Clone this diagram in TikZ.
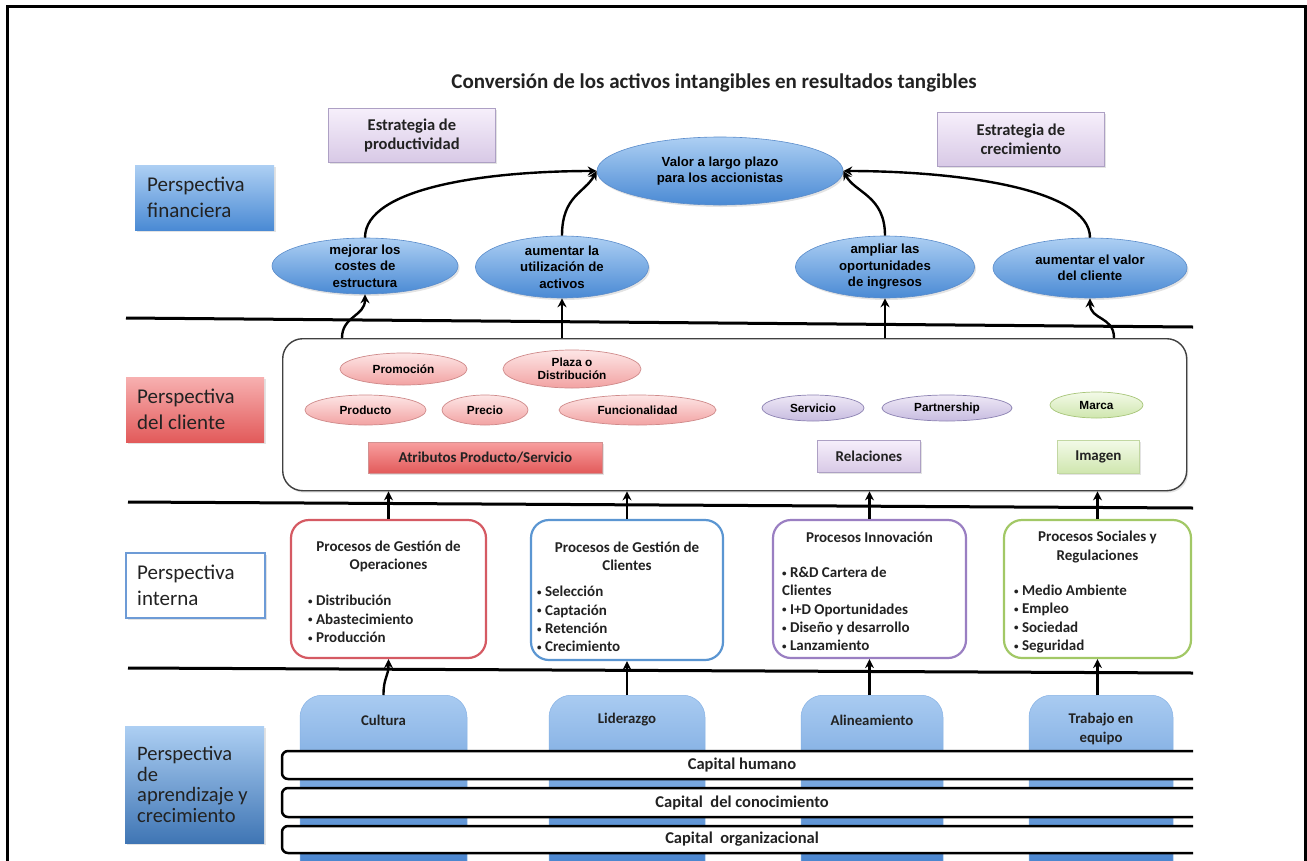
\documentclass[tikz,border=0pt]{standalone}
\usepackage{fontspec}
\setmainfont{Carlito}
\newfontfamily\arialf{Liberation Sans}
\usetikzlibrary{arrows.meta,shapes.geometric,shadows,calc}
\definecolor{finT}{HTML}{ADCFF3}
\definecolor{finB}{HTML}{4A8AD4}
\definecolor{finD}{HTML}{5A8CCB}
\definecolor{redT}{HTML}{F7B0B0}
\definecolor{redB}{HTML}{E25A5A}
\definecolor{pinkT}{HTML}{FDE6E6}
\definecolor{pinkB}{HTML}{F2A2A2}
\definecolor{pinkD}{HTML}{CF8A8A}
\definecolor{lavT}{HTML}{F6EFFB}
\definecolor{lavB}{HTML}{D8C9E6}
\definecolor{lavD}{HTML}{ADA0C4}
\definecolor{lavET}{HTML}{EEE8F6}
\definecolor{lavEB}{HTML}{C7BCE0}
\definecolor{lavED}{HTML}{8C82B2}
\definecolor{grT}{HTML}{F3FAE8}
\definecolor{grB}{HTML}{CFE6AE}
\definecolor{grD}{HTML}{A8C67A}
\definecolor{opC}{HTML}{D55A63}
\definecolor{clC}{HTML}{5B96D2}
\definecolor{inC}{HTML}{9A7FC2}
\definecolor{soC}{HTML}{A2C866}
\definecolor{intC}{HTML}{6D9BD6}
\definecolor{lbT}{HTML}{A9CBF1}
\definecolor{lbB}{HTML}{3878C8}
\definecolor{txt}{HTML}{222222}
\newcommand\zT{\fontsize{21}{25}\selectfont\bfseries}
\newcommand\zE{\fontsize{16.5}{19.5}\selectfont\bfseries}
\newcommand\zP{\fontsize{21}{26}\selectfont}
\newcommand\zQ{\fontsize{20.5}{20.5}\selectfont}
\newcommand\zF{\arialf\fontsize{13.2}{16.5}\selectfont\bfseries}
\newcommand\zS{\arialf\fontsize{11.8}{13.5}\selectfont\bfseries}
\newcommand\zR{\fontsize{15}{17}\selectfont\bfseries}
\newcommand\zB{\fontsize{15}{18.3}\selectfont\bfseries}
\newcommand\zL{\fontsize{14.8}{18.5}\selectfont\bfseries}
\newcommand\zC{\fontsize{16.5}{18}\selectfont\bfseries}
\newcommand\zb{\raisebox{1.3pt}{\fontsize{9}{9}\selectfont•}\ }
\begin{document}
\begin{tikzpicture}[x=1pt,y=-1pt,
  sepline/.style={line width=3pt, black},
  arr/.style={line width=2.4pt, black, -{Stealth[length=9pt,width=9pt]}},
  shad/.style={drop shadow={opacity=0.22, shadow xshift=1.5pt, shadow yshift=-2pt}},
  perspbox/.style={rectangle, inner sep=0pt, shad},
  persptxt/.style={inner sep=0pt, align=left, text=txt, anchor=west},
  estr/.style={rectangle, draw=lavD, line width=0.8pt, top color=lavT, bottom color=lavB, align=center, font=\zE, text=txt, inner sep=0pt, shad},
  fell/.style={ellipse, draw=finD, line width=0.6pt, top color=finT, bottom color=finB, inner sep=0pt, shad},
  ftxt/.style={align=center, font=\zF, text=black, inner sep=0pt},
  pell/.style={ellipse, draw=pinkD, line width=0.7pt, top color=pinkT, bottom color=pinkB, inner sep=0pt},
  vell/.style={ellipse, draw=lavED, line width=0.7pt, top color=lavET, bottom color=lavEB, inner sep=0pt},
  gell/.style={ellipse, draw=grD, line width=0.7pt, top color=grT, bottom color=grB, inner sep=0pt},
  stxt/.style={align=center, font=\zS, text=black, inner sep=0pt},
  rbox/.style={rectangle, line width=0.7pt, inner sep=0pt, font=\zR, text=txt, anchor=north west, shad},
  pbox/.style={rectangle, rounded corners=18pt, fill=white, line width=2.2pt, inner sep=0pt},
  ptitle/.style={align=center, font=\zB, text=txt, inner sep=0pt},
  plist/.style={align=left, font=\zB, text=txt, inner sep=0pt, anchor=west},
  lbox/.style={rectangle, rounded corners=22pt, top color=lbT, bottom color=lbB, draw=lbT!70!lbB, line width=0.5pt, inner sep=0pt, minimum height=200pt, anchor=north},
  ltxt/.style={align=center, font=\zL, text=txt, inner sep=0pt},
  capbar/.style={rectangle, rounded corners=6pt, draw=black, line width=2.5pt, fill=white, inner sep=0pt, font=\zC, text=txt, minimum width=920pt},
]
\useasboundingbox (0,0) rectangle (1307,860);
\fill[white] (0,0) rectangle (1307,860);
\draw[line width=3pt] (7,880) -- (7,6) -- (1305,6) -- (1305,880);

\begin{scope}
\clip (0,0) rectangle (1193,860);

% title
\node[font=\zT, text=txt] (title) at (714,83) {Conversión de los activos intangibles en resultados tangibles};

% strategy boxes
\node[estr, minimum width=167pt, minimum height=54pt, anchor=north west] (eprod) at (328,108) {Estrategia de\\productividad};
\node[estr, minimum width=167pt, minimum height=54pt, anchor=north west] (ecrec) at (937,112) {Estrategia de\\crecimiento};

% perspective labels
\node[perspbox, top color=finT, bottom color=finB, minimum width=139pt, minimum height=65pt, anchor=north west] (pfin) at (135,165) {};
\node[persptxt, font=\zP] at ($(pfin.west)+(12,0)$) {Perspectiva\\financiera};
\node[perspbox, top color=redT, bottom color=redB, minimum width=138pt, minimum height=65pt, anchor=north west] (pcli) at (126,377) {};
\node[persptxt, font=\zP] at ($(pcli.west)+(11,0)$) {Perspectiva\\del cliente};
\node[perspbox, fill=white, draw=intC, line width=2pt, minimum width=139pt, minimum height=65pt, anchor=north west] (pint) at (125,552) {};
\node[persptxt, font=\zP] at ($(pint.west)+(12,0)$) {Perspectiva\\interna};
\node[perspbox, top color=finT, bottom color=finB!85!black, minimum width=139pt, minimum height=117pt, anchor=north west] (papr) at (125,726) {};
\node[persptxt, font=\zQ] at ($(papr.west)+(12,0)$) {Perspectiva\\de\\aprendizaje y\\crecimiento};

% financial ellipses
\node[fell, minimum width=246pt, minimum height=68pt] (valor) at (720,171) {};
\node[ftxt] at (valor) {Valor a largo plazo\\para los accionistas};
\node[fell, minimum width=186pt, minimum height=56pt] (mej) at (365,266) {};
\node[ftxt] at (mej) {mejorar los\\costes de\\estructura};
\node[fell, minimum width=173pt, minimum height=62pt] (aum) at (562,267) {};
\node[ftxt] at (aum) {aumentar la\\utilización de\\activos};
\node[fell, minimum width=179pt, minimum height=62pt] (amp) at (885,267) {};
\node[ftxt] at (amp) {ampliar las\\oportunidades\\de ingresos};
\node[fell, minimum width=194pt, minimum height=60pt] (vcl) at (1090,268) {};
\node[ftxt] at (vcl) {aumentar el valor\\del cliente};

\draw[arr] (mej.north) .. controls +(0,-50) and +(-110,0) .. (valor.west);
\draw[arr] (aum.north) .. controls +(0,-40) and +(-12,22) .. (valor.west);
\draw[arr] (amp.north) .. controls +(0,-40) and +(12,22) .. (valor.east);
\draw[arr] (vcl.north) .. controls +(0,-50) and +(110,0) .. (valor.east);

% separators
\coordinate (s1a) at (126,318); \coordinate (s1b) at (1193,327);
\coordinate (s2a) at (128,502); \coordinate (s2b) at (1193,508);
\coordinate (s3a) at (128,668); \coordinate (s3b) at (1193,673);
\draw[sepline] (s1a) -- (s1b);
\draw[sepline] (s2a) -- (s2b);
\draw[sepline] (s3a) -- (s3b);

% client box
\node[rectangle, rounded corners=20pt, draw=black!75, line width=1.4pt, fill=white, minimum width=904pt, minimum height=152pt, anchor=north west, inner sep=0pt, shad] (cbox) at (282,338) {};

\node[pell, minimum width=127pt, minimum height=32pt] (promo) at (403.5,369) {};
\node[stxt] at (promo) {Promoción};
\node[pell, minimum width=138pt, minimum height=38pt] (plaza) at (572,369) {};
\node[stxt] at (plaza) {Plaza o\\Distribución};
\node[pell, minimum width=121pt, minimum height=30pt] (prod) at (365.5,410) {};
\node[stxt] at (prod) {Producto};
\node[pell, minimum width=86pt, minimum height=30pt] (prec) at (485,410) {};
\node[stxt] at (prec) {Precio};
\node[pell, minimum width=157pt, minimum height=30pt] (func) at (637.5,410) {};
\node[stxt] at (func) {Funcionalidad};
\node[vell, minimum width=102pt, minimum height=26pt] (serv) at (813,408) {};
\node[stxt] at (serv) {Servicio};
\node[vell, minimum width=130pt, minimum height=26pt] (part) at (947,408) {};
\node[stxt] at (part) {Partnership};
\node[gell, minimum width=93pt, minimum height=26pt] (marca) at (1096.5,405) {};
\node[stxt] at (marca) {Marca};

\node[rbox, draw=redB!80!black!60, top color=redT!90!red, bottom color=redB, minimum width=234pt, minimum height=31pt] (atr) at (368,442) {Atributos Producto/Servicio};
\node[rbox, draw=lavD, top color=lavT, bottom color=lavB, minimum width=103pt, minimum height=32pt] (rel) at (817,440) {Relaciones};
\node[rbox, draw=grD!70, top color=grT, bottom color=grB, minimum width=82pt, minimum height=33pt] (img) at (1057,440) {Imagen};

\coordinate (c1x) at (342,0);
\coordinate (c4x) at (1114,0);
\draw[arr] (c1x |- cbox.north) .. controls +(0,-22) and +(0,22) .. (mej.south);
\draw[arr] (aum.south |- cbox.north) -- (aum.south);
\draw[arr] (amp.south |- cbox.north) -- (amp.south);
\draw[arr] (c4x |- cbox.north) .. controls +(0,-22) and +(0,22) .. (vcl.south);

% process boxes
\node[pbox, draw=opC, minimum width=195pt, minimum height=138pt] (op) at (388.5,589) {};
\node[ptitle] at (388.5,556.5) {Procesos de Gestión de\\Operaciones};
\node[plist] at (308,619) {\zb Distribución\\\zb Abastecimiento\\\zb Producción};
\node[pbox, draw=clC, minimum width=192pt, minimum height=140pt] (cl) at (627,590) {};
\node[ptitle] at (627,556.5) {Procesos de Gestión de\\Clientes};
\node[plist] at (537,619) {\zb Selección\\\zb Captación\\\zb Retención\\\zb Crecimiento};
\node[pbox, draw=inC, minimum width=193pt, minimum height=138pt] (inn) at (869.5,589) {};
\node[ptitle] at (869.5,537) {Procesos Innovación};
\node[plist] at (782,609) {\zb R\&D Cartera de\\Clientes\\\zb I+D Oportunidades\\\zb Diseño y desarrollo\\\zb Lanzamiento};
\node[pbox, draw=soC, minimum width=187pt, minimum height=138pt] (soc) at (1097.5,589) {};
\node[ptitle] at (1097.5,547) {Procesos Sociales y\\Regulaciones};
\node[plist] at (1014,619) {\zb Medio Ambiente\\\zb Empleo\\\zb Sociedad\\\zb Seguridad};

\draw[arr] (op.north) -- (op.north |- cbox.south);
\draw[arr] (cl.north) -- (cl.north |- cbox.south);
\draw[arr] (inn.north) -- (inn.north |- cbox.south);
\draw[arr] (soc.north) -- (soc.north |- cbox.south);

% learning boxes
\node[lbox, minimum width=167pt] (cult) at (383.5,695) {};
\node[ltxt] at ($(cult.north)+(0,25)$) {Cultura};
\node[lbox, minimum width=156pt] (lid) at (627,695) {};
\node[ltxt] at ($(lid.north)+(0,25)$) {Liderazgo};
\node[lbox, minimum width=142pt] (ali) at (872,695) {};
\node[ltxt] at ($(ali.north)+(0,25)$) {Alineamiento};
\node[lbox, minimum width=144pt] (trab) at (1101,695) {};
\node[ltxt] at ($(trab.north)+(0,34)$) {Trabajo en\\equipo};

\draw[arr] (cult.north) .. controls +(0,-18) and +(0,18) .. (op.south);
\draw[arr] (cl.south |- lid.north) -- (cl.south);
\draw[arr] (inn.south |- ali.north) -- (inn.south);
\draw[arr] (soc.south |- trab.north) -- (soc.south);

% capital bars
\node[capbar, minimum height=28pt] (chum) at (742,765) {Capital humano};
\node[capbar, minimum height=29pt] (ccon) at (742,802.5) {Capital\ \ del conocimiento};
\node[capbar, minimum height=27pt] (corg) at (742,839.5) {Capital\ \ organizacional};
\end{scope}
\end{tikzpicture}
\end{document}
